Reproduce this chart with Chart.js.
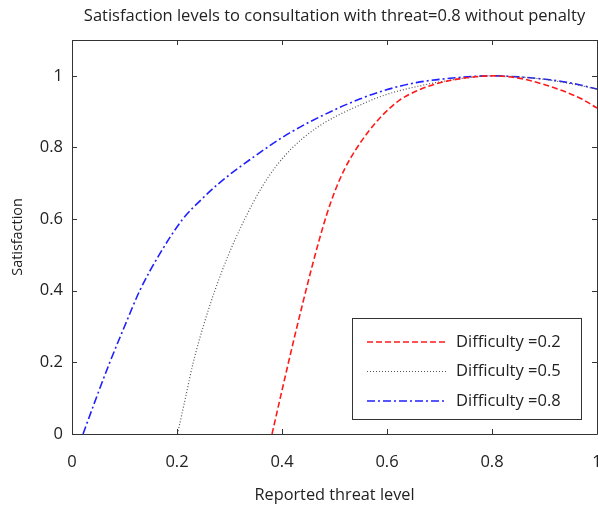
<!DOCTYPE html>
<html>
<head>
<meta charset="utf-8">
<script src="https://cdn.jsdelivr.net/npm/chart.js@4/dist/chart.umd.min.js"></script>
<style>
  html, body { margin: 0; padding: 0; background: #fff; }
  #c { display: block; }
</style>
</head>
<body>
<canvas id="c" width="598" height="505"></canvas>
<script>
// ---- data ----
const titleText = "Satisfaction levels to consultation with threat=0.8 without penalty";
const xTitle = "Reported threat level";
const yTitle = "Satisfaction";
const seriesLabels = ["Difficulty =0.2", "Difficulty =0.5", "Difficulty =0.8"];
const tickValues = [0, 0.2, 0.4, 0.6, 0.8, 1];

const xRed = [0.381, 0.395, 0.41, 0.425, 0.44, 0.455, 0.47, 0.485, 0.5, 0.52, 0.541, 0.565, 0.592, 0.624, 0.655, 0.69, 0.72, 0.76, 0.8, 0.84, 0.872, 0.905, 0.935, 0.97, 1.0];
const yRed = [0, 0.09, 0.185, 0.278, 0.368, 0.455, 0.537, 0.612, 0.675, 0.742, 0.795, 0.845, 0.891, 0.932, 0.957, 0.976, 0.987, 0.996, 1.0, 0.996, 0.987, 0.973, 0.958, 0.936, 0.91];

const xBlack = [0.201, 0.216, 0.231, 0.251, 0.272, 0.298, 0.329, 0.36, 0.389, 0.415, 0.44, 0.47, 0.503, 0.548, 0.58, 0.62, 0.66, 0.7, 0.75, 0.8, 0.85, 0.9, 0.95, 1.0];
const yBlack = [0, 0.1, 0.2, 0.305, 0.4, 0.5, 0.6, 0.685, 0.748, 0.792, 0.826, 0.859, 0.887, 0.918, 0.938, 0.957, 0.971, 0.983, 0.994, 1.0, 0.997, 0.99, 0.978, 0.963];

const xBlue = [0.021, 0.046, 0.072, 0.1, 0.129, 0.166, 0.211, 0.246, 0.28, 0.338, 0.414, 0.497, 0.548, 0.592, 0.656, 0.72, 0.8, 0.85, 0.91, 0.96, 1.0];
const yBlue = [0, 0.1, 0.2, 0.3, 0.4, 0.5, 0.6, 0.654, 0.7, 0.765, 0.84, 0.903, 0.935, 0.958, 0.981, 0.993, 1.0, 0.997, 0.989, 0.977, 0.963];

function pts(xs, ys) { return xs.map((x, i) => ({ x: x, y: ys[i] })); }
function fmt(v) { return String(+Number(v).toFixed(1)); }

const FONT = "'Open Sans', 'DejaVu Sans', sans-serif";
const TXT = "#222";

// centre the title over the plot area (as in the reference)
const titleOverPlot = {
  id: 'titleOverPlot',
  afterLayout(chart) {
    const t = chart.titleBlock;
    if (t) {
      t.left = chart.chartArea.left;
      t.right = chart.chartArea.right;
      t.width = t.right - t.left;
    }
  }
};

const frame = {
  id: 'frame',
  afterDatasetsDraw(chart) {
    const { ctx, chartArea: a, scales } = chart;
    ctx.save();
    ctx.strokeStyle = '#333';
    ctx.lineWidth = 1;
    ctx.beginPath();
    ctx.rect(Math.round(a.left) + 0.5, Math.round(a.top) + 0.5, Math.round(a.right - a.left), Math.round(a.bottom - a.top));
    ctx.stroke();
    const tl = 5;
    ctx.beginPath();
    tickValues.forEach(v => {
      const px = Math.round(scales.x.getPixelForValue(v)) + 0.5;
      ctx.moveTo(px, a.bottom); ctx.lineTo(px, a.bottom - tl);
      ctx.moveTo(px, a.top); ctx.lineTo(px, a.top + tl);
      const py = Math.round(scales.y.getPixelForValue(v)) + 0.5;
      ctx.moveTo(a.left, py); ctx.lineTo(a.left + tl, py);
      ctx.moveTo(a.right, py); ctx.lineTo(a.right - tl, py);
    });
    ctx.stroke();
    ctx.restore();
  }
};

const legendBox = {
  id: 'legendBox',
  afterDraw(chart) {
    const { ctx } = chart;
    const bx = 352.5, by = 318.5, bw = 229, bh = 101;
    ctx.save();
    ctx.fillStyle = '#fff';
    ctx.fillRect(bx, by, bw, bh);
    ctx.strokeStyle = '#333';
    ctx.lineWidth = 1;
    ctx.strokeRect(bx, by, bw, bh);
    const rows = [342, 371.5, 401];
    chart.data.datasets.forEach((ds, i) => {
      const y = rows[i];
      ctx.beginPath();
      ctx.setLineDash(ds.borderDash || []);
      ctx.strokeStyle = ds.borderColor;
      ctx.lineWidth = ds.borderWidth;
      ctx.moveTo(367, y); ctx.lineTo(446, y);
      ctx.stroke();
      ctx.setLineDash([]);
      ctx.fillStyle = TXT;
      ctx.font = "16.5px " + FONT;
      ctx.textBaseline = 'middle';
      ctx.textAlign = 'left';
      ctx.fillText(ds.label, 456, y);
    });
    ctx.restore();
  }
};

new Chart(document.getElementById('c'), {
  type: 'scatter',
  data: {
    datasets: [
      { label: seriesLabels[0], data: pts(xRed, yRed), showLine: true, borderColor: '#ff1a1a', borderWidth: 1.6, borderDash: [6, 3], pointRadius: 0, cubicInterpolationMode: 'monotone' },
      { label: seriesLabels[1], data: pts(xBlack, yBlack), showLine: true, borderColor: '#555555', borderWidth: 1.2, borderDash: [1, 2], pointRadius: 0, cubicInterpolationMode: 'monotone' },
      { label: seriesLabels[2], data: pts(xBlue, yBlue), showLine: true, borderColor: '#1f1fff', borderWidth: 1.6, borderDash: [8, 3, 2, 3], pointRadius: 0, cubicInterpolationMode: 'monotone' }
    ]
  },
  options: {
    responsive: false,
    animation: false,
    layout: { padding: { right: 1, left: 0, top: 0, bottom: 0 } },
    plugins: {
      legend: { display: false },
      tooltip: { enabled: false },
      title: {
        display: true, text: titleText, color: TXT,
        font: { family: FONT, size: 16.5, weight: 'normal' },
        padding: { top: 6, bottom: 14.2 }
      }
    },
    scales: {
      x: {
        type: 'linear', min: 0, max: 1,
        grid: { display: false, drawTicks: false },
        border: { display: false },
        afterBuildTicks(s) { s.ticks = tickValues.map(v => ({ value: v })); },
        afterFit(s) { s.height = 71; s.paddingLeft = 0; s.paddingRight = 0; },
        ticks: { color: TXT, font: { family: FONT, size: 16.5 }, padding: 18, maxRotation: 0, callback: v => fmt(v) },
        title: { display: true, text: xTitle, color: TXT, font: { family: FONT, size: 16.3 }, padding: { top: 1.7, bottom: 0 } }
      },
      y: {
        type: 'linear', min: 0, max: 1.1,
        grid: { display: false, drawTicks: false },
        border: { display: false },
        afterBuildTicks(s) { s.ticks = tickValues.map(v => ({ value: v })); },
        afterFit(s) { s.width = 72; s.paddingTop = 0; s.paddingBottom = 0; },
        ticks: { color: TXT, font: { family: FONT, size: 16.5 }, padding: 9, callback: v => fmt(v) },
        title: { display: true, text: yTitle, color: TXT, font: { family: FONT, size: 14.4 }, padding: { top: 9.4, bottom: 0 } }
      }
    }
  },
  plugins: [titleOverPlot, frame, legendBox]
});
</script>
</body>
</html>
